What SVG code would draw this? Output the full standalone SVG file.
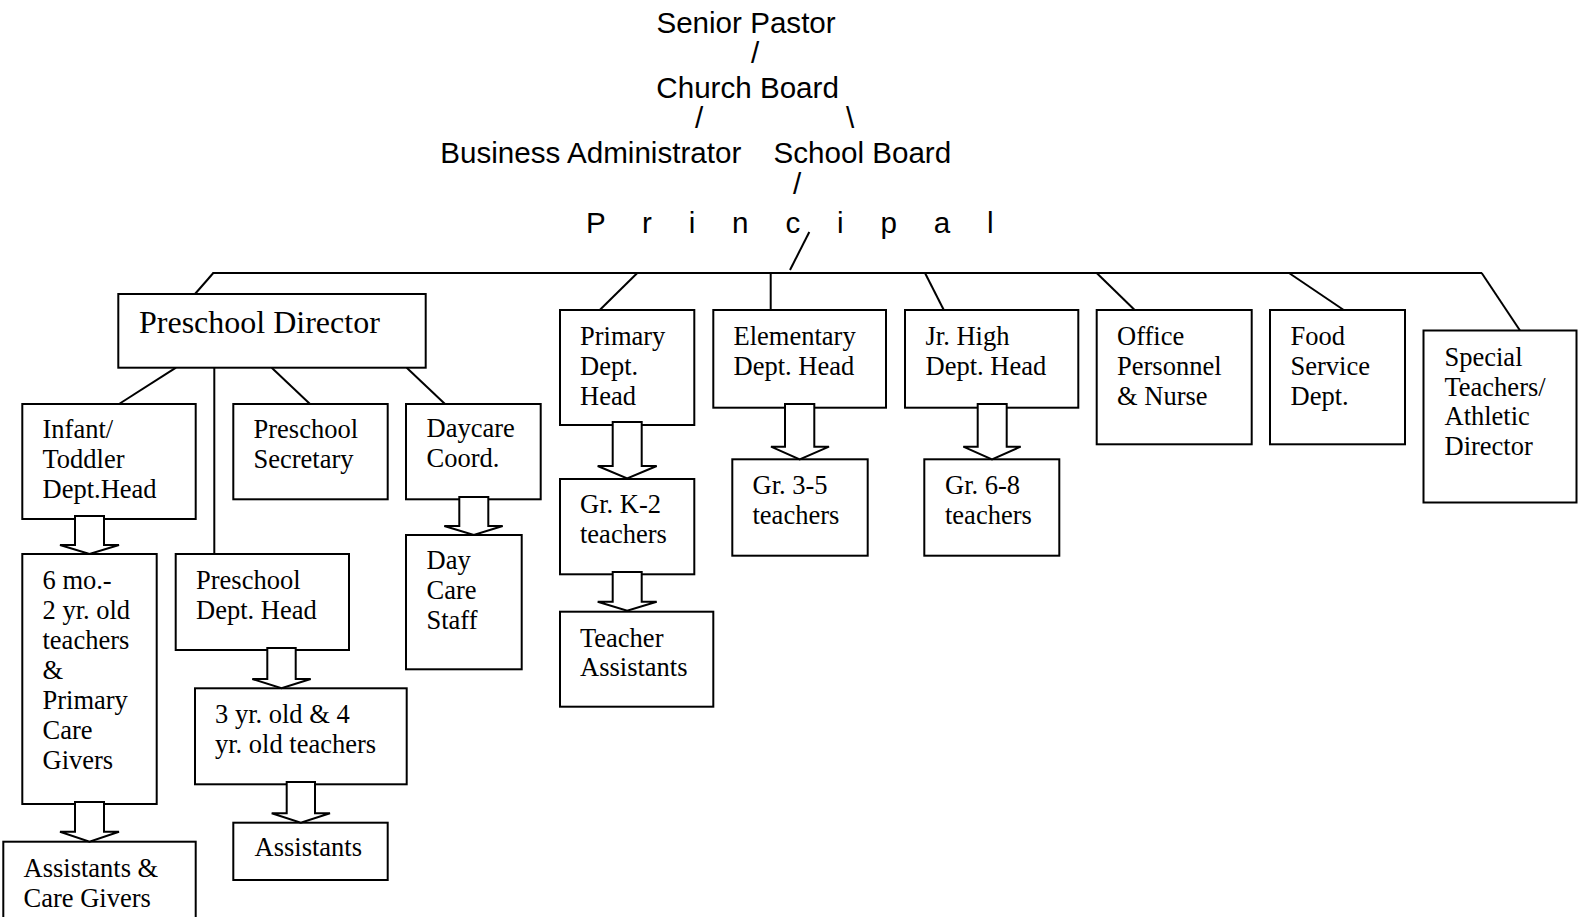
<svg xmlns="http://www.w3.org/2000/svg" width="1580" height="917" viewBox="0 0 1580 917">
<style>
.sans{font-family:"Liberation Sans",Arial,sans-serif;font-size:29.6px;fill:#000}
.serif{font-family:"Liberation Serif","Times New Roman",serif;font-size:26.5px;fill:#000}
.big{font-size:32px}
.box{fill:#fff;stroke:#000;stroke-width:2}
.ln{fill:none;stroke:#000;stroke-width:2}
.arr{fill:#fff;stroke:#000;stroke-width:2;stroke-linejoin:miter}
</style>
<rect width="1580" height="917" fill="#fff"/>
<g id="top">
<text class="sans" x="656.4" y="32.5">Senior Pastor</text>
<text class="sans" x="751" y="63">/</text>
<text class="sans" x="656.3" y="97.5">Church Board</text>
<text class="sans" x="695" y="128">/</text>
<text class="sans" x="846" y="128">\</text>
<text class="sans" x="440.3" y="162.5">Business Administrator</text>
<text class="sans" x="773.5" y="162.5">School Board</text>
<text class="sans" x="793" y="194">/</text>
<text class="sans" x="586" y="232.7" letter-spacing="14.3">P r i n c i p a l</text>
</g>
<g id="connectors">
<line class="ln" x1="212.5" y1="273" x2="1482" y2="273"/>
<line class="ln" x1="809.3" y1="232" x2="790" y2="270"/>
<line class="ln" x1="213.3" y1="273" x2="195" y2="294"/>
<line class="ln" x1="637.3" y1="273" x2="599" y2="310.7"/>
<line class="ln" x1="770.7" y1="273" x2="770.7" y2="310"/>
<line class="ln" x1="925" y1="273" x2="944.3" y2="311"/>
<line class="ln" x1="1096.7" y1="273" x2="1135.7" y2="311"/>
<line class="ln" x1="1289" y1="273" x2="1346.7" y2="312"/>
<line class="ln" x1="1481.7" y1="273" x2="1520" y2="330.5"/>
<line class="ln" x1="176" y1="367.7" x2="119" y2="404"/>
<line class="ln" x1="214.3" y1="367.7" x2="214.3" y2="554"/>
<line class="ln" x1="271.7" y1="367.7" x2="310" y2="404"/>
<line class="ln" x1="406.7" y1="367.7" x2="445" y2="404"/>
</g>
<g id="preschool-director">
<rect class="box" x="118.3" y="294" width="307.4" height="73.7"/>
<text class="serif big" x="139" y="333.3">Preschool Director</text>
</g>
<g id="infant-toddler">
<rect class="box" x="22.3" y="404" width="173.4" height="115"/>
<text class="serif" x="42.5" y="438">Infant/</text>
<text class="serif" x="42.5" y="468">Toddler</text>
<text class="serif" x="42.5" y="497.5">Dept.Head</text>
</g>
<g id="preschool-secretary">
<rect class="box" x="233.3" y="404" width="154.4" height="95.3"/>
<text class="serif" x="253.5" y="438.3">Preschool</text>
<text class="serif" x="253.5" y="468.3">Secretary</text>
</g>
<g id="daycare-coord">
<rect class="box" x="406" y="404" width="134.7" height="95.3"/>
<text class="serif" x="426.5" y="437">Daycare</text>
<text class="serif" x="426.5" y="467.3">Coord.</text>
</g>
<g id="six-mo">
<rect class="box" x="22.3" y="554" width="134.4" height="250"/>
<text class="serif" x="42.5" y="589.3">6 mo.-</text>
<text class="serif" x="42.5" y="619.2">2 yr. old</text>
<text class="serif" x="42.5" y="649.1">teachers</text>
<text class="serif" x="42.5" y="679">&amp;</text>
<text class="serif" x="42.5" y="708.9">Primary</text>
<text class="serif" x="42.5" y="738.8">Care</text>
<text class="serif" x="42.5" y="768.7">Givers</text>
</g>
<g id="preschool-dept-head">
<rect class="box" x="175.7" y="554" width="173.3" height="96"/>
<text class="serif" x="196" y="589.3">Preschool</text>
<text class="serif" x="196" y="619">Dept. Head</text>
</g>
<g id="three-yr">
<rect class="box" x="195" y="688.3" width="211.7" height="96"/>
<text class="serif" x="215" y="722.7">3 yr. old &amp; 4</text>
<text class="serif" x="215" y="752.7">yr. old teachers</text>
</g>
<g id="assistants">
<rect class="box" x="233.3" y="822.7" width="154.4" height="57.3"/>
<text class="serif" x="254.5" y="856">Assistants</text>
</g>
<g id="assistants-care-givers">
<rect class="box" x="3.3" y="841.7" width="192.4" height="100"/>
<text class="serif" x="23.5" y="876.7">Assistants &amp;</text>
<text class="serif" x="23.5" y="906.7">Care Givers</text>
</g>
<g id="day-care-staff">
<rect class="box" x="406" y="535" width="115.7" height="134.3"/>
<text class="serif" x="426.5" y="568.5">Day</text>
<text class="serif" x="426.5" y="598.5">Care</text>
<text class="serif" x="426.5" y="628.5">Staff</text>
</g>
<g id="primary">
<rect class="box" x="560" y="310" width="134.3" height="115"/>
<text class="serif" x="580" y="345">Primary</text>
<text class="serif" x="580" y="375">Dept.</text>
<text class="serif" x="580" y="404.5">Head</text>
</g>
<g id="gr-k2">
<rect class="box" x="560" y="479" width="134.3" height="95.3"/>
<text class="serif" x="580" y="513.3">Gr. K-2</text>
<text class="serif" x="580" y="543.3">teachers</text>
</g>
<g id="teacher-assistants">
<rect class="box" x="560" y="611.7" width="153.3" height="95"/>
<text class="serif" x="580" y="646.7">Teacher</text>
<text class="serif" x="580" y="676">Assistants</text>
</g>
<g id="elementary">
<rect class="box" x="713.3" y="310" width="172.7" height="97.7"/>
<text class="serif" x="733.5" y="345">Elementary</text>
<text class="serif" x="733.5" y="375">Dept. Head</text>
</g>
<g id="gr-3-5">
<rect class="box" x="732.3" y="459.3" width="135.4" height="96.4"/>
<text class="serif" x="752.5" y="493.5">Gr. 3-5</text>
<text class="serif" x="752.5" y="523.5">teachers</text>
</g>
<g id="jr-high">
<rect class="box" x="905" y="310" width="173.3" height="97.7"/>
<text class="serif" x="925.5" y="345">Jr. High</text>
<text class="serif" x="925.5" y="375">Dept. Head</text>
</g>
<g id="gr-6-8">
<rect class="box" x="924.3" y="459.3" width="135" height="96.4"/>
<text class="serif" x="945" y="493.5">Gr. 6-8</text>
<text class="serif" x="945" y="523.5">teachers</text>
</g>
<g id="office">
<rect class="box" x="1096.7" y="310" width="155" height="134.3"/>
<text class="serif" x="1117" y="345">Office</text>
<text class="serif" x="1117" y="375">Personnel</text>
<text class="serif" x="1117" y="404.5">&amp; Nurse</text>
</g>
<g id="food">
<rect class="box" x="1270" y="310" width="135" height="134.3"/>
<text class="serif" x="1290.5" y="345">Food</text>
<text class="serif" x="1290.5" y="375">Service</text>
<text class="serif" x="1290.5" y="404.5">Dept.</text>
</g>
<g id="special">
<rect class="box" x="1423.5" y="330.5" width="153" height="172"/>
<text class="serif" x="1444.5" y="366">Special</text>
<text class="serif" x="1444.5" y="395.5">Teachers/</text>
<text class="serif" x="1444.5" y="425">Athletic</text>
<text class="serif" x="1444.5" y="454.5">Director</text>
</g>
<g id="block-arrows">
<polygon class="arr" points="75,516 104,516 104,545 119,545 89.5,554 60,545 75,545"/>
<polygon class="arr" points="75,802 104,802 104,831.7 119,831.7 89.5,841.7 60,831.7 75,831.7"/>
<polygon class="arr" points="267.3,648 295.7,648 295.7,679 310.7,679 281.5,688.3 252.3,679 267.3,679"/>
<polygon class="arr" points="286.7,782 315,782 315,813.3 330,813.3 300.8,822.7 271.7,813.3 286.7,813.3"/>
<polygon class="arr" points="459.3,497 488.3,497 488.3,526 502.7,526 473.8,535 444.3,526 459.3,526"/>
<polygon class="arr" points="612.7,422 641.7,422 641.7,466 656.7,466 627.2,478.3 597.7,466 612.7,466"/>
<polygon class="arr" points="612.7,572 641.7,572 641.7,601.7 656.7,601.7 627.2,610.7 597.7,601.7 612.7,601.7"/>
<polygon class="arr" points="785,404 814.3,404 814.3,446.7 829,446.7 799.7,459.3 771,446.7 785,446.7"/>
<polygon class="arr" points="977.7,404 1006.7,404 1006.7,446.7 1020.7,446.7 992,459.3 963.3,446.7 977.7,446.7"/>
</g>
</svg>
